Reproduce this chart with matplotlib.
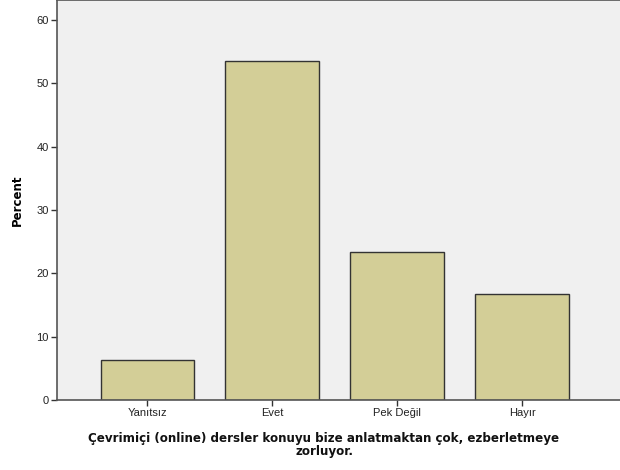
import matplotlib
matplotlib.use("Agg")
import matplotlib.pyplot as plt

# Data
categories = ["Yanıtsız", "Evet", "Pek Değil", "Hayır"]
percents   = [6.3, 53.6, 23.4, 16.7]
y_ticks    = [0, 10, 20, 30, 40, 50, 60]

W, H = 620, 470
fig = plt.figure(figsize=(W / 100, H / 100), dpi=100)
fig.patch.set_facecolor("white")

# plot area: left 57px, bottom at 400px, top at image edge, right at image edge
ax = fig.add_axes([57 / W, (H - 400) / H, (W - 57) / W, 400 / H])
ax.set_facecolor("#f0f0f0")

x = list(range(len(categories)))
ax.bar(x, percents, width=0.75, color="#d3ce97",
       edgecolor="#333333", linewidth=1.0, zorder=2)

ax.set_xlim(-0.724, 3.784)
ax.set_ylim(0, 400 / 6.333)

tick_font = dict(family="Liberation Sans", size=8, color="#222222")
ax.set_xticks(x)
ax.set_xticklabels(categories, **tick_font)
ax.set_yticks(y_ticks)
ax.set_yticklabels([str(v) for v in y_ticks], **tick_font)
ax.tick_params(axis="both", direction="out", length=4, width=1,
               color="#333333", pad=2)

for side in ["left", "bottom", "top"]:
    ax.spines[side].set_color("#555555")
    ax.spines[side].set_linewidth(1.2)
ax.spines["right"].set_visible(False)

ax.set_ylabel("Percent", fontsize=8.5, fontweight="bold")
ax.yaxis.set_label_coords(-0.058, 0.5)
fig.text(324 / W, 1 - 445 / H,
         "Çevrimiçi (online) dersler konuyu bize anlatmaktan çok, ezberletmeye\nzorluyor.",
         ha="center", va="center", fontsize=8.55, fontweight="bold",
         linespacing=1.0, color="#111111")

fig.savefig("out.png", dpi=100)
